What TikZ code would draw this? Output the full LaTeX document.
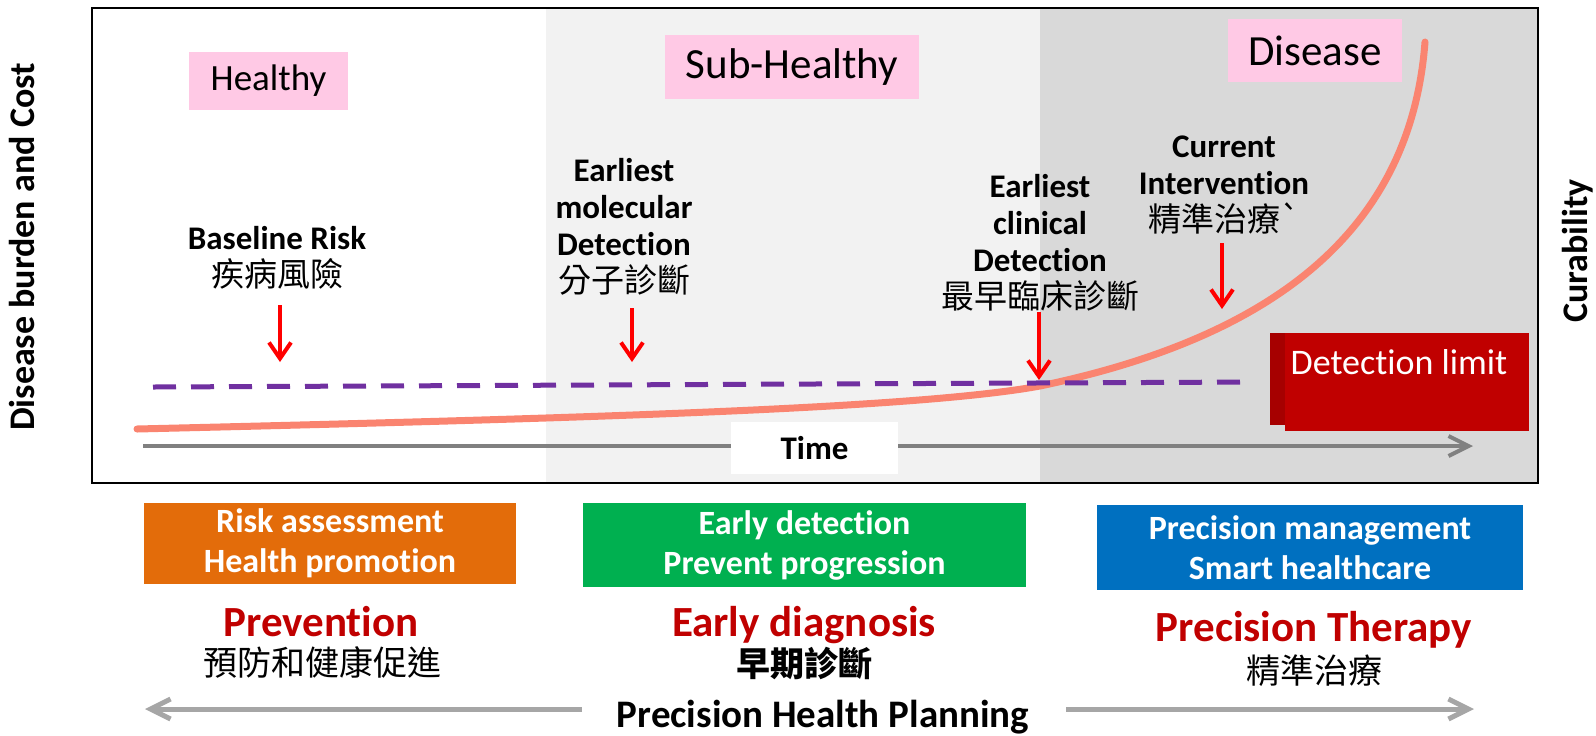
\documentclass[tikz,border=0pt]{standalone}
\usepackage{fontspec}
\setmainfont{Carlito}[Ligatures={TeX,CommonOff}]
\newfontfamily\cjk{Noto Sans CJK TC}
\usepackage{xcolor}
\usetikzlibrary{arrows.meta}

\definecolor{pinkbox}{RGB}{255,201,229}
\definecolor{lightband}{RGB}{242,242,242}
\definecolor{darkband}{RGB}{217,217,217}
\definecolor{curvecol}{RGB}{250,132,112}
\definecolor{limitpurple}{RGB}{112,48,160}
\definecolor{limitred}{RGB}{192,0,0}
\definecolor{limitdark}{RGB}{166,0,0}
\definecolor{axisgray}{RGB}{128,128,128}
\definecolor{plangray}{RGB}{166,166,166}
\definecolor{prevorange}{RGB}{227,108,10}
\definecolor{diaggreen}{RGB}{0,176,80}
\definecolor{therblue}{RGB}{0,112,192}
\definecolor{titlered}{RGB}{192,0,0}
\newcommand{\zhtext}[1]{{\cjk\mdseries #1}}

\begin{document}
\begin{tikzpicture}[x=0.5pt, y=-0.5pt,
  chartframe/.style={draw=black, line width=1.2pt},
  stagebox/.style={fill=pinkbox, inner sep=0pt},
  pointnote/.style={align=center, font=\bfseries\fontsize{16.5}{18.5}\selectfont},
  redarrow/.style={draw=red, line width=2pt, -{Straight Barb[length=8pt,width=11pt]}},
  limitline/.style={draw=limitpurple, line width=2.5pt, dash pattern=on 11.5pt off 7.5pt},
  burden/.style={draw=curvecol, line width=3.5pt, line cap=round},
  timeaxis/.style={draw=axisgray, line width=2pt, -{Straight Barb[length=10pt,width=10pt]}},
  taskbox/.style={text=white, align=center, inner sep=0pt,
    font=\bfseries\fontsize{17}{20}\selectfont},
  phasetitle/.style={text=titlered, anchor=base,
    font=\bfseries\fontsize{21.5}{24}\selectfont},
  phasezh/.style={anchor=base, font=\cjk\fontsize{17}{20}\selectfont},
  sidelabel/.style={rotate=90, font=\bfseries\fontsize{18}{20}\selectfont},
  planarrow/.style={draw=plangray, line width=2.5pt, -{Straight Barb[length=10pt,width=10pt]}},
]
\useasboundingbox (0,0) rectangle (1596,735);

% --- Stage bands and frame ---
\fill[lightband] (546,9) rectangle (1040,482);
\fill[darkband] (1040,9) rectangle (1537,482);
\draw[chartframe] (92,8) rectangle (1538,483);

\node[stagebox, minimum width=79.5pt, minimum height=29pt,
  font=\fontsize{18.5}{22}\selectfont] (healthy) at (268.5,81) {Healthy};
\node[stagebox, minimum width=127pt, minimum height=32pt,
  font=\fontsize{21.5}{24}\selectfont] (subhealthy) at (792,67) {Sub-Healthy};
\node[stagebox, minimum width=87pt, minimum height=31.5pt,
  font=\fontsize{21.5}{24}\selectfont] (disease) at (1315,50.5) {Disease};

% --- Side labels ---
\node[sidelabel] (burdenlabel) at (22,247) {Disease burden and Cost};
\node[sidelabel] (curability) at (1578,251) {Curability};

% --- Detection limit ---
\node[fill=limitdark, minimum width=15pt, minimum height=46pt, inner sep=0pt]
  (limitshade) at (1285,379) {};
\node[fill=limitred, minimum width=122pt, minimum height=49pt, inner sep=0pt]
  (limitbox) at (1407,382) {};
\node[text=white, font=\fontsize{18}{20}\selectfont] (limittext) at (1399,362)
  {Detection limit};

% --- Burden curve and detection line ---
\draw[burden] (137,429) .. controls (600,418) and (920,408) .. (1040,386)
  .. controls (1260,340) and (1410,240) .. (1425,42);
\coordinate (limit-start) at (153,387);
\coordinate (limit-end) at (1254,382);
\draw[limitline] (limit-start) -- (limit-end);

% --- Time axis ---
\coordinate (time-start) at (143,446);
\coordinate (time-end) at (1473,446);
\draw[timeaxis] (time-start) -- (time-end);
\node[fill=white, minimum width=83.5pt, minimum height=26pt, inner sep=0pt,
  font=\bfseries\fontsize{16.5}{18}\selectfont] (time) at (814.5,448) {Time};

% --- Detection points ---
\node[pointnote] (baseline) at (277,258) {Baseline Risk\\\zhtext{疾病風險}};
\node[pointnote] (molecular) at (624,227)
  {Earliest\\molecular\\Detection\\\zhtext{分子診斷}};
\node[pointnote] (clinical) at (1040,243)
  {Earliest\\clinical\\Detection\\\zhtext{最早臨床診斷}};
\node[pointnote] (current) at (1224,185)
  {Current\\Intervention\\\zhtext{精準治療\textasciigrave}};

\coordinate (baseline-a) at (280,305);  \coordinate (baseline-b) at (280,362);
\coordinate (molecular-a) at (632,308); \coordinate (molecular-b) at (632,362);
\coordinate (clinical-a) at (1039,312); \coordinate (clinical-b) at (1039,380);
\coordinate (current-a) at (1222,243);  \coordinate (current-b) at (1222,309);
\draw[redarrow] (baseline-a) -- (baseline-b);
\draw[redarrow] (molecular-a) -- (molecular-b);
\draw[redarrow] (clinical-a) -- (clinical-b);
\draw[redarrow] (current-a) -- (current-b);

% --- Actions ---
\node[taskbox, fill=prevorange, minimum width=186pt, minimum height=40.5pt]
  (risk) at (330,543.5) {Risk assessment\\Health promotion};
\node[taskbox, fill=diaggreen, minimum width=221.5pt, minimum height=42pt]
  (early) at (804.5,545) {Early detection\\Prevent progression};
\node[taskbox, fill=therblue, minimum width=213pt, minimum height=42.5pt]
  (manage) at (1310,547.5) {Precision management\\Smart healthcare};

\node[phasetitle] (prevention) at (321,636) {Prevention};
\node[phasezh] (prevention-zh) at (322,675) {預防和健康促進};
\node[phasetitle] (diagnosis) at (804,636) {Early diagnosis};
\node[phasezh, font=\cjk\bfseries\fontsize{17}{20}\selectfont] (diagnosis-zh)
  at (804,676) {早期診斷};
\node[phasetitle] (therapy) at (1314,641) {Precision Therapy};
\node[phasezh] (therapy-zh) at (1314,683) {精準治療};

% --- Planning ---
\node[anchor=base, font=\bfseries\fontsize{19.5}{22}\selectfont] (planning)
  at (823,727) {Precision Health Planning};
\coordinate (plan-left-a) at (582,709);  \coordinate (plan-left-b) at (145,709);
\coordinate (plan-right-a) at (1066,709); \coordinate (plan-right-b) at (1474,709);
\draw[planarrow] (plan-left-a) -- (plan-left-b);
\draw[planarrow] (plan-right-a) -- (plan-right-b);
\end{tikzpicture}
\end{document}
